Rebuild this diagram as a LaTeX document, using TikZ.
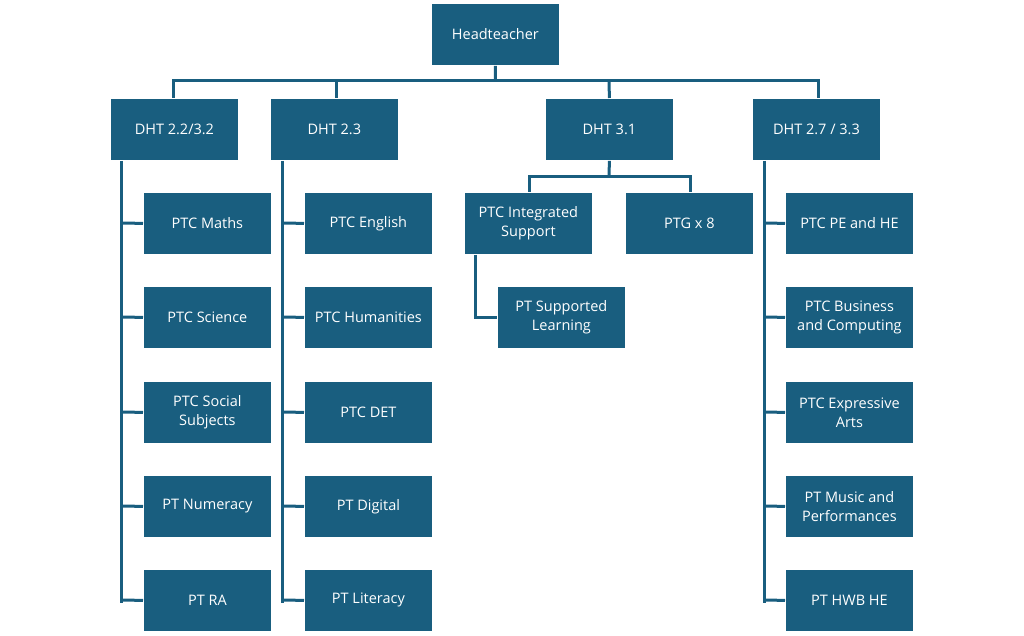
\documentclass[tikz,border=0pt]{standalone}
\usepackage{fontspec}
\setmainfont{Open Sans}
\begin{document}
\begin{tikzpicture}[x=1pt,y=-1pt,
 box/.style={draw=white,line width=0.8pt,fill=boxc,text=white,minimum width=128pt,minimum height=62pt,inner sep=1pt,align=center,font=\fontsize{14.5}{19}\selectfont,anchor=north west},
 ln/.style={draw=boxc,line width=3pt}]
\definecolor{boxc}{HTML}{195E7F}
\useasboundingbox (0,0) rectangle (1024,636);
\node[box] (h) at (431,3) {Headteacher};
\node[box] (d1) at (110,98) {DHT 2.2/3.2};
\node[box] (d2) at (270,98) {DHT 2.3};
\node[box] (d3) at (545,98) {DHT 3.1};
\node[box] (d4) at (752,98) {DHT 2.7 / 3.3};
\coordinate (j) at (495.5,81);
\draw[ln] (h.south) -- (j);
\draw[ln] (d1.north -| 173,0) |- (j) -| (d4.north -| 818,0);
\draw[ln] (d2.north -| 336,0) -- (336,81);
\draw[ln] (d3.north) -- (609,81);
% column 1
\foreach \n/\t/\y in {a1/PTC Maths/192,a2/PTC Science/286,a3/PTC Social\\Subjects/381,a4/PT Numeracy/475,a5/PT RA/569}{
 \node[box] (\n) at (143,\y) {\t};
 \draw[ln] (\n.west) -- (121,\y+31);}
\draw[ln] (d1.south -| 121,0) -- (121,602.5);
\foreach \n/\t/\y in {b1/PTC English/192,b2/PTC Humanities/286,b3/PTC DET/381,b4/PT Digital/475,b5/PT Literacy/569}{
 \node[box] (\n) at (304,\y) {\t};
 \draw[ln] (\n.west) -- (282,\y+31);}
\draw[ln] (d2.south -| 282,0) -- (282,602.5);
\foreach \n/\t/\y in {c1/PTC PE and HE/192,c2/PTC Business\\and Computing/286,c3/PTC Expressive\\Arts/381,c4/PT Music and\\Performances/475,c5/PT HWB HE/569}{
 \node[box] (\n) at (785,\y) {\t};
 \draw[ln] (\n.west) -- (764,\y+31);}
\draw[ln] (d4.south -| 764,0) -- (764,602.5);
% DHT 3.1
\node[box] (e1) at (464,192) {PTC Integrated\\Support};
\node[box] (e2) at (625,192) {PTG x 8};
\node[box] (e3) at (497,286) {PT Supported\\Learning};
\draw[ln] (d3.south) -- (609,177);
\draw[ln] (e1.north -| 529,0) |- (609,177) -| (e2.north -| 690,0);
\draw[ln] (e1.south -| 475,0) |- (e3.west);
\end{tikzpicture}
\end{document}
